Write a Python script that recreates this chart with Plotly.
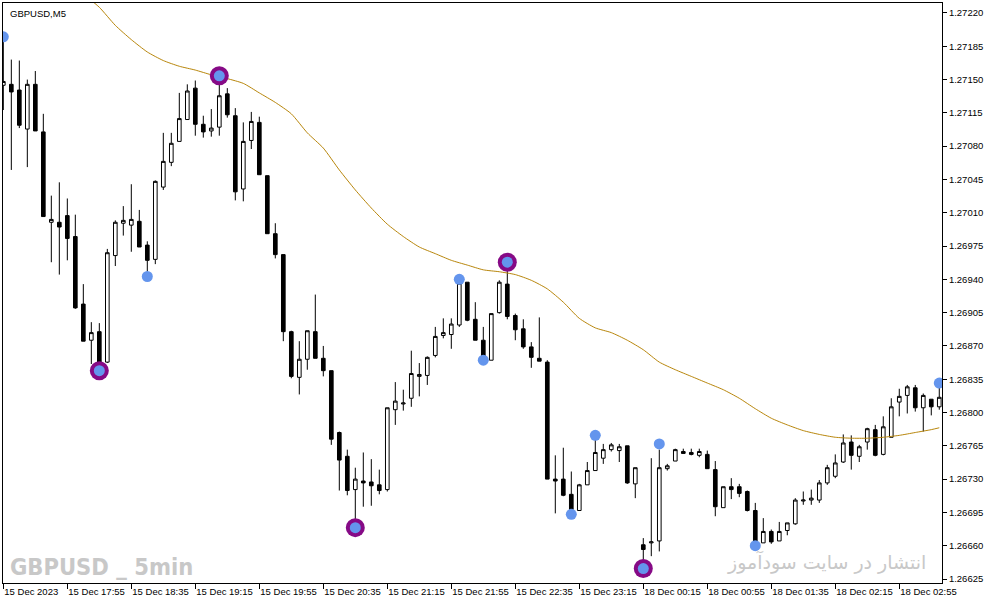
import plotly.graph_objects as go

# ---------------- data ----------------
bar_index = list(range(118))

open_pts = [127144,127145,127139,127098,127145,127095,127000,127000,127007,126985,
            126914,126876,126885,126853,126965,126999,126997,127001,126976,126961,
            127037,127063,127085,127108,127141,127103,127096,127100,127135,127112,
            127035,127086,127105,127049,126988,126966,126885,126837,126856,126885,
            126857,126844,126779,126754,126719,126728,126727,126724,126719,126803,
            126809,126815,126838,126839,126860,126881,126882,126892,126937,126898,
            126876,126855,126905,126935,126902,126888,126869,126857,126853,126730,
            126730,126714,126697,126724,126739,126752,126761,126760,126765,126725,
            126661,126663,126665,126741,126749,126759,126758,126755,126756,126740,
            126700,126722,126722,126717,126697,126663,126675,126665,126676,126683,
            126707,126708,126708,126726,126733,126748,126769,126754,126769,126782,
            126756,126774,126811,126818,126826,126805,126814,126806]
high_pts = [127191,127171,127170,127150,127159,127114,127028,127042,127025,127008,
            126935,126895,126894,126972,127002,127017,127040,127013,126980,127044,
            127094,127094,127136,127145,127149,127112,127119,127151,127141,127120,
            127105,127116,127111,127049,126999,126966,126886,126875,126886,126924,
            126870,126844,126780,126761,126742,126758,126751,126740,126805,126832,
            126824,126865,126852,126859,126890,126899,126899,126936,126937,126916,
            126890,126904,126939,126952,126904,126898,126874,126900,126855,126755,
            126763,126738,126725,126748,126772,126767,126768,126767,126765,126742,
            126668,126752,126761,126746,126762,126762,126762,126762,126760,126749,
            126722,126731,126725,126718,126705,126689,126677,126685,126684,126710,
            126717,126719,126729,126745,126756,126777,126776,126766,126784,126787,
            126796,126815,126825,126829,126829,126820,126814,126826]
low_pts = [127118,127055,127099,127058,127096,127006,126958,126945,126960,126909,
           126875,126851,126849,126852,126954,126986,126969,126974,126948,126956,
           127034,127059,127085,127108,127091,127089,127090,127091,127110,127023,
           127022,127077,127050,126988,126962,126875,126836,126819,126845,126857,
           126838,126766,126718,126713,126687,126701,126702,126714,126717,126787,
           126802,126806,126817,126829,126858,126878,126867,126890,126896,126876,
           126859,126855,126904,126898,126876,126867,126847,126854,126730,126694,
           126712,126696,126697,126724,126739,126746,126759,126748,126725,126710,
           126642,126649,126654,126739,126749,126757,126755,126753,126741,126691,
           126700,126709,126711,126696,126661,126663,126662,126665,126671,126682,
           126703,126703,126705,126724,126731,126747,126740,126748,126761,126754,
           126755,126774,126796,126799,126801,126780,126797,126803]
close_pts = [127148,127137,127102,127145,127096,127006,127003,126995,126983,126910,
             126875,126884,126853,126968,127000,127002,127003,126974,126960,127043,
             127064,127083,127109,127138,127103,127095,127099,127133,127113,127032,
             127085,127106,127050,126988,126966,126885,126838,126856,126886,126857,
             126844,126772,126750,126718,126730,126726,126723,126718,126805,126812,
             126810,126841,126840,126858,126880,126884,126893,126936,126897,126876,
             126859,126904,126937,126901,126887,126869,126858,126854,126730,126728,
             126713,126698,126724,126739,126758,126761,126766,126764,126726,126742,
             126656,126664,126742,126744,126761,126757,126756,126759,126741,126701,
             126722,126719,126715,126697,126664,126675,126664,126675,126684,126708,
             126708,126710,126726,126742,126747,126768,126755,126764,126783,126755,
             126785,126806,126817,126827,126805,126818,126806,126816]

# moving average (read at selected bars)
ma_index = [10,12,14,16,18,20,22,24,26,28,30,32,34,36,38,40,42,44,46,48,50,52,54,56,58,
            60,62,64,66,68,70,72,74,76,78,80,82,84,86,88,90,92,94,96,98,100,102,104,106,
            108,110,112,114,116,117]
ma_pts = [127240,127226,127207,127192,127179,127170,127164,127160,127155,127151,127146,
          127136,127126,127114,127094,127078,127055,127034,127015,126998,126985,126974,
          126967,126960,126955,126950,126948,126945,126939,126930,126916,126899,126889,
          126884,126876,126866,126853,126845,126838,126831,126824,126815,126804,126794,
          126787,126781,126777,126774,126773,126773,126774,126776,126779,126782,126784]

# swing markers
dot_index = [0, 18, 57, 60, 71, 74, 82, 94, 117]
dot_pts = [127195, 126943, 126940, 126855, 126693, 126776, 126767, 126660, 126831]
ring_index = [12, 27, 44, 63, 80]
ring_pts = [126844, 127154, 126679, 126958, 126636]

tick_bars = [0, 8, 16, 24, 32, 40, 48, 56, 64, 72, 80, 88, 96, 104, 112]
tick_labels = ["15 Dec 2023", "15 Dec 17:55", "15 Dec 18:35", "15 Dec 19:15", "15 Dec 19:55",
               "15 Dec 20:35", "15 Dec 21:15", "15 Dec 21:55", "15 Dec 22:35", "15 Dec 23:15",
               "18 Dec 00:15", "18 Dec 00:55", "18 Dec 01:35", "18 Dec 02:15", "18 Dec 02:55"]
price_ticks = [1.27220, 1.27185, 1.27150, 1.27115, 1.27080, 1.27045, 1.27010, 1.26975,
               1.26940, 1.26905, 1.26870, 1.26835, 1.26800, 1.26765, 1.26730, 1.26695,
               1.26660, 1.26625]

def px(v):
    return [p / 100000.0 for p in v]

FONT = "Liberation Sans"

fig = go.Figure()
fig.add_trace(go.Scatter(x=ma_index, y=px(ma_pts), mode="lines",
                         line=dict(color="#B8860B", width=1, shape="spline", smoothing=0.6),
                         hoverinfo="skip", showlegend=False))
fig.add_trace(go.Candlestick(
    x=bar_index, open=px(open_pts), high=px(high_pts), low=px(low_pts), close=px(close_pts),
    increasing=dict(line=dict(color="black", width=1), fillcolor="white"),
    decreasing=dict(line=dict(color="black", width=1), fillcolor="black"),
    whiskerwidth=0, showlegend=False))
fig.add_trace(go.Scatter(x=ring_index, y=px(ring_pts), mode="markers",
                         marker=dict(size=19, color="#860A86", line=dict(width=0)),
                         hoverinfo="skip", showlegend=False))
fig.add_trace(go.Scatter(x=ring_index + dot_index, y=px(ring_pts + dot_pts), mode="markers",
                         marker=dict(size=11, color="#6495ED", line=dict(width=0)),
                         hoverinfo="skip", showlegend=False))

fig.update_layout(
    width=987, height=605,
    margin=dict(l=3, r=45, t=3, b=22, autoexpand=False),
    paper_bgcolor="white", plot_bgcolor="white",
    boxgap=0.35,
    hovermode=False,
    font=dict(family=FONT, size=9.5, color="black"),
    xaxis=dict(range=[-0.04, 117.34], rangeslider=dict(visible=False),
               automargin=False, tickangle=0,
               showgrid=False, zeroline=False, showline=True, mirror=True,
               linecolor="black", linewidth=1,
               tickmode="array", tickvals=tick_bars, ticktext=tick_labels,
               ticks="outside", ticklen=5, tickcolor="black",
               ticklabelposition="outside right",
               tickfont=dict(family=FONT, size=9.5, color="black")),
    yaxis=dict(range=[1.266208, 1.272305], side="right", automargin=False,
               showgrid=False, zeroline=False, showline=True, mirror=True,
               linecolor="black", linewidth=1,
               tickmode="array", tickvals=price_ticks,
               ticktext=["%.5f" % t for t in price_ticks],
               ticks="outside", ticklen=4, tickcolor="black",
               tickfont=dict(family=FONT, size=9.5, color="black")),
)

fig.add_annotation(text="GBPUSD,M5", xref="paper", yref="paper", x=0.005, y=0.995,
                   xanchor="left", yanchor="top", showarrow=False,
                   font=dict(family=FONT, size=9.5, color="black"))
fig.add_annotation(text="<b>GBPUSD _ 5min</b>", xref="paper", yref="paper", x=0.005, y=0.0,
                   xanchor="left", yanchor="bottom", showarrow=False,
                   font=dict(family="DejaVu Sans Condensed, Liberation Sans Narrow, Liberation Sans",
                             size=23.5, color="#C8C8C8"))
fig.add_annotation(text="انتشار در سایت سودآموز", xref="paper", yref="paper", x=0.985, y=0.012,
                   xanchor="right", yanchor="bottom", showarrow=False,
                   font=dict(family="DejaVu Sans", size=19, color="#C8C8C8"))

fig.write_html("out.html", config={"displayModeBar": False, "staticPlot": True},
               post_script="document.body.style.margin='0';document.body.style.overflow='hidden';")
